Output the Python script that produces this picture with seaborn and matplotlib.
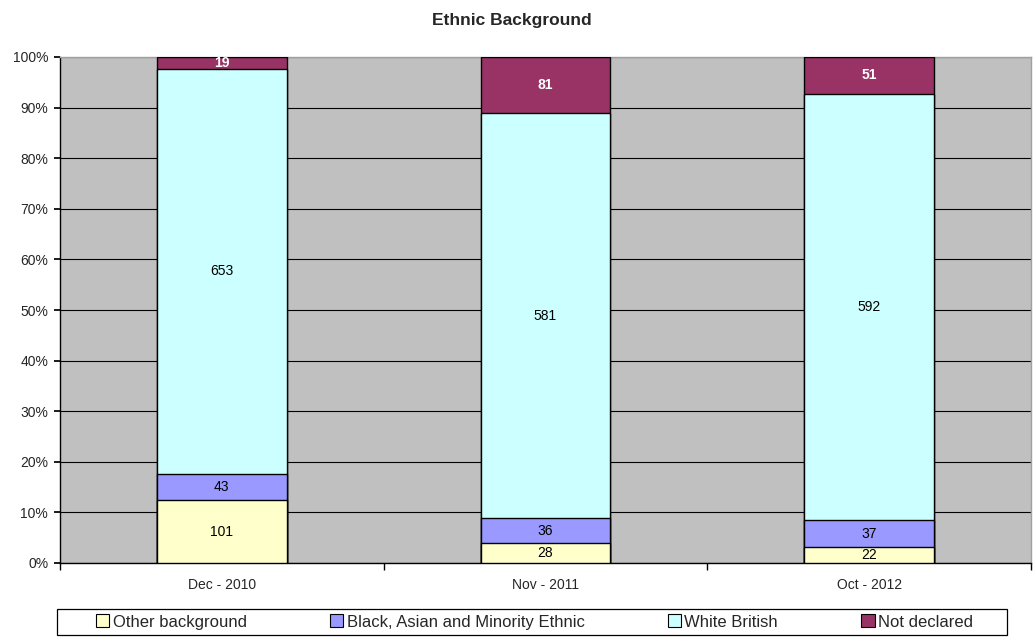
import matplotlib
matplotlib.use("Agg")
import matplotlib.pyplot as plt
import seaborn as sns
import numpy as np
import pandas as pd
from matplotlib.patches import Patch, Rectangle

periods = ["Dec - 2010", "Nov - 2011", "Oct - 2012"]
series_names = ["Other background", "Black, Asian and Minority Ethnic", "White British", "Not declared"]
other_bg = [101, 28, 22]
bame = [43, 36, 37]
white_british = [653, 581, 592]
not_declared = [19, 81, 51]
colors = ["#FFFFCC", "#9999FF", "#CCFFFF", "#993366"]
label_colors = ["black", "black", "black", "white"]

sns.set_theme(style="white")
plt.rcParams['font.family'] = ['Liberation Sans', 'DejaVu Sans']

values = np.array([other_bg, bame, white_british, not_declared], dtype=float)
totals = values.sum(axis=0)
frac = values / totals * 100
cum = np.cumsum(frac, axis=0)

W, H = 1034, 638
fig = plt.figure(figsize=(W / 100, H / 100), dpi=100)
ax = fig.add_axes([60/W, 1-563/H, (1031-60)/W, (563-57)/H])
ax.set_facecolor("#C0C0C0")

# draw cumulative bars from tallest (back) to shortest (front)
for i in reversed(range(len(series_names))):
    df = pd.DataFrame({"period": periods, "value": cum[i]})
    sns.barplot(data=df, x="period", y="value", color=colors[i], saturation=1,
                width=0.4, edgecolor="black", linewidth=1.0, ax=ax, zorder=3)

# labels
for i in range(len(series_names)):
    for j in range(len(periods)):
        y = cum[i, j] - frac[i, j] / 2
        ax.text(j, y, f"{int(values[i, j])}", ha="center", va="center",
                fontsize=10, color=label_colors[i],
                fontweight="bold" if i == 3 else "normal", zorder=5)

ax.set_ylim(0, 100)
ax.set_xlim(-0.5, 2.5)
ax.set_yticks(np.arange(0, 101, 10))
ax.set_yticklabels([f"{v}%" for v in range(0, 101, 10)], fontsize=10)
ax.yaxis.grid(True, color="black", linewidth=0.8, zorder=0)
ax.set_axisbelow(True)
ax.set_xlabel("")
ax.set_ylabel("")
ax.tick_params(axis="x", length=0, labelsize=10, pad=11)
ax.tick_params(axis="y", length=4.5, direction="out", color="black", pad=4, left=True)
for sp in ["top", "right"]:
    ax.spines[sp].set_color("#A0A0A0")
    ax.spines[sp].set_linewidth(1)
ax.spines["left"].set_color("black")
ax.spines["bottom"].set_color("black")
ax.spines["left"].set_linewidth(1)
ax.spines["bottom"].set_linewidth(1)
# category boundary ticks
ax.set_xticks([-0.5, 0.5, 1.5, 2.5], minor=True)
ax.tick_params(axis="x", which="minor", length=5, direction="out", color="black", bottom=True)

fig.text(512/W, 1-20/H, "Ethnic Background", ha="center", va="center",
         fontsize=12.5, fontweight="bold")

# legend frame
fig.patches.append(Rectangle((57/W, 1-635/H), (1007-57)/W, (635-609)/H,
                             transform=fig.transFigure, facecolor="white",
                             edgecolor="black", linewidth=0.9, zorder=1))
handles = [Patch(facecolor=c, edgecolor="black", linewidth=0.8) for c in colors]
leg = fig.legend(handles, series_names, loc="center", ncol=4,
                 bbox_to_anchor=(534.5/W, 1-622/H), fontsize=12,
                 frameon=False,
                 handlelength=0.8, handleheight=0.8, handletextpad=0.2,
                 columnspacing=5.0, borderpad=0.0)
leg.set_zorder(2)

fig.savefig("out.png", dpi=100)
